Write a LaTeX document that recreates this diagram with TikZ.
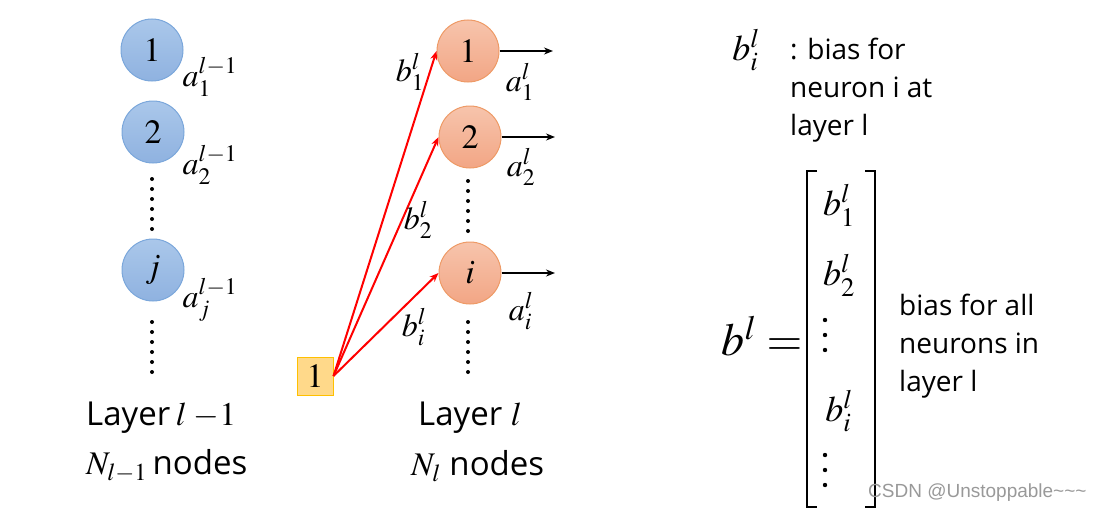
\documentclass[tikz,border=0pt]{standalone}
\usepackage{mathptmx}
\usepackage{fontspec}
\setsansfont{Open Sans}
\newfontfamily\markfont{Liberation Sans}
\usetikzlibrary{arrows.meta}

\definecolor{prevtop}{HTML}{AAC7EA}
\definecolor{prevbot}{HTML}{8FB2E0}
\definecolor{prevline}{HTML}{7BA7DB}
\definecolor{curtop}{HTML}{F7C4AC}
\definecolor{curbot}{HTML}{F2A685}
\definecolor{curline}{HTML}{EE9A66}
\definecolor{onefill}{HTML}{FFD98A}
\definecolor{oneline}{HTML}{FFC000}

\tikzset{
  prevneuron/.style={circle,minimum size=62pt,inner sep=0pt,draw=prevline,line width=1pt,
    top color=prevtop,bottom color=prevbot,font=\fontsize{34}{34}\selectfont},
  curneuron/.style={circle,minimum size=62pt,inner sep=0pt,draw=curline,line width=1pt,
    top color=curtop,bottom color=curbot,font=\fontsize{34}{34}\selectfont},
  biasbox/.style={draw=oneline,line width=1pt,fill=onefill,minimum width=36pt,minimum height=38pt,
    inner sep=0pt,font=\fontsize{34}{34}\selectfont},
  biasarrow/.style={red,line width=2pt,-{Stealth[length=9pt,width=7pt]}},
  outarrow/.style={black,line width=2pt,-{Stealth[length=9pt,width=7pt]}},
  mlabel/.style={inner sep=0pt,font=\fontsize{32}{32}\selectfont},
  vlabel/.style={inner sep=0pt,font=\fontsize{36}{36}\selectfont},
  txt/.style={inner sep=0pt,font=\sffamily\fontsize{28}{38}\selectfont,align=left},
  layertxt/.style={inner sep=0pt,font=\sffamily\fontsize{33}{33}\selectfont},
}

\begin{document}
\begin{tikzpicture}[x=1pt,y=-1pt]
\useasboundingbox (0,0) rectangle (1101,514);

% layer l-1
\node[prevneuron] (p1) at (152,50)  {$1$};
\node[prevneuron] (p2) at (153,132) {$2$};
\node[prevneuron] (pj) at (153,270) {$j$};

\node[mlabel] (ap1) at (210,77)  {$a_1^{l-1}$};
\node[mlabel] (ap2) at (210,165) {$a_2^{l-1}$};
\node[mlabel] (apj) at (210,300) {$a_j^{l-1}$};

\foreach \y in {0,...,5} \fill (152,179+10*\y) circle (2pt);
\foreach \y in {0,...,5} \fill (152,322+10*\y) circle (2pt);

% layer l
\node[curneuron] (c1) at (468,51)  {$1$};
\node[curneuron] (c2) at (470,137) {$2$};
\node[curneuron] (ci) at (470,273) {$i$};

\foreach \y in {0,...,5} \fill (468,181+10*\y) circle (2pt);
\foreach \y in {0,...,5} \fill (468,322+10*\y) circle (2pt);

\coordinate (o1) at (553,51);
\coordinate (o2) at (555,137);
\coordinate (oi) at (555,273);
\draw[outarrow] (c1.east) -- (o1);
\draw[outarrow] (c2.east) -- (o2);
\draw[outarrow] (ci.east) -- (oi);

\node[mlabel] (ac1) at (520,82)  {$a_1^{l}$};
\node[mlabel] (ac2) at (521,167) {$a_2^{l}$};
\node[mlabel] (aci) at (521,311) {$a_i^{l}$};

% bias input
\node[biasbox] (one) at (315,376) {$1$};
\draw[biasarrow] (one.east) -- (c1.west);
\draw[biasarrow] (one.east) -- (c2.west);
\draw[biasarrow] (one.east) -- (ci.west);

\node[mlabel] (b1) at (410,72)  {$b_1^{l}$};
\node[mlabel] (b2) at (418,220) {$b_2^{l}$};
\node[mlabel] (bi) at (414,327) {$b_i^{l}$};

% layer names
\node[layertxt,anchor=west] (lprev) at (86,418) {Layer\,$l\;{-}1$};
\node[layertxt,anchor=west] (nprev) at (86,466) {$N_{l-1}$\,nodes};
\node[layertxt,anchor=west] (lcur)  at (418,418) {Layer $l$};
\node[layertxt,anchor=west] (ncur)  at (411,466) {$N_{l}$ nodes};

% right side
\node[vlabel] (bil) at (746,50) {$b_i^{l}$};
\node[txt,anchor=north west] (bdef) at (790,38) {: bias for\\neuron i at\\layer l};

\node[inner sep=0pt,font=\fontsize{46}{46}\selectfont] (bvec) at (762,336) {$b^{l}=$};
\draw[line width=1.6pt] (817,171) -- (807,171) -- (807,507) -- (817,507);
\draw[line width=1.6pt] (865,171) -- (875,171) -- (875,507) -- (865,507);
\node[vlabel] (m1) at (839,205) {$b_1^{l}$};
\node[vlabel] (m2) at (839,275) {$b_2^{l}$};
\node[vlabel] (m4) at (839,411) {$b_i^{l}$};
\foreach \y in {320,335,350,455,470,485} \fill (825,\y) circle (2.2pt);

\node[txt,anchor=north west] (ball) at (899,294) {bias for all\\neurons in\\layer l};

\node[anchor=west,inner sep=0pt,text=black!40,font=\markfont\fontsize{19}{19}\selectfont] (mark) at (868,493) {CSDN @Unstoppable\textasciitilde\textasciitilde\textasciitilde};
\end{tikzpicture}
\end{document}
